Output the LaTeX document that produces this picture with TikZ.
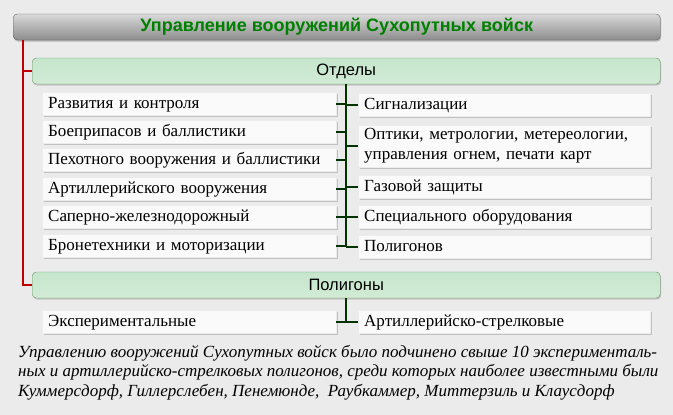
\documentclass[tikz,border=0pt]{standalone}
\usepackage{fontspec}
\setmainfont{Liberation Serif}
\newfontfamily\hdr{Liberation Sans}
\usetikzlibrary{shadows}
\definecolor{barc}{HTML}{C6E6CC}
\begin{document}
\begin{tikzpicture}[x=1pt,y=-1pt,
 box/.style={draw=white!85!gray,fill=white!96!gray,minimum height=22pt,anchor=west,inner xsep=6pt,align=left,font=\fontsize{17}{20}\selectfont,text height=12pt,text depth=4pt,drop shadow={shadow xshift=1.5pt,shadow yshift=-1.5pt,fill=black!40}},
 bar/.style={draw=green!30!black!60,rounded corners=4pt,top color=barc,bottom color=barc!80!white,minimum height=26pt,minimum width=628pt,anchor=west,font=\hdr\fontsize{16.5}{19}\selectfont,drop shadow={shadow xshift=1pt,shadow yshift=-1.5pt,fill=black!40}},
 red/.style={draw=red!75!black,line width=1.2pt},
 tree/.style={draw=green!20!black,line width=1.4pt}]
\fill[black!8] (0,0) rectangle (673,415);
\node[draw=black!60,rounded corners=4pt,top color=black!15,bottom color=black!45,minimum width=647pt,minimum height=26pt,anchor=west,font=\hdr\bfseries\fontsize{18}{20}\selectfont,text=green!50!black,drop shadow={shadow xshift=1pt,shadow yshift=-1.5pt,fill=black!50}] (title) at (13,27) {Управление вооружений Сухопутных войск};
\node[bar] (otd) at (32,71) {Отделы};
\node[bar] (pol) at (32,285) {Полигоны};
\coordinate (r0) at (23,40);
\draw[red] (r0) -- (23,285) -- (pol.west);
\draw[red] (23,71) -- (otd.west);
\foreach \n/\y/\t in {l1/104/Развития и контроля,l2/132/Боеприпасов и баллистики,l3/160/Пехотного вооружения и баллистики,l4/189/Артиллерийского вооружения,l5/217/Саперно-железнодорожный,l6/246/Бронетехники и моторизации}
 \node[box,text width=282pt] (\n) at (42,\y) {\t};
\node[box,text width=280pt] (s1) at (358,105) {Сигнализации};
\node[box,text width=280pt,minimum height=42pt,text height=,text depth=] (s2) at (358,146) {Оптики, метрологии, метереологии,\\управления огнем, печати карт};
\node[box,text width=280pt] (s3) at (358,187) {Газовой защиты};
\node[box,text width=280pt] (s4) at (358,217) {Специального оборудования};
\node[box,text width=280pt] (s5) at (358,247) {Полигонов};
\coordinate (t0) at (346,84);
\coordinate (t1) at (346,247);
\draw[tree] (t0) -- (t1);
\foreach \n in {l1,l2,l3,l4,l5,l6} \draw[tree] (\n.east) -- (\n.east -| t0);
\foreach \n in {s1,s2,s3,s4,s5} \draw[tree] (\n.west) -- (\n.west -| t0);
\node[box,text width=282pt] (p1) at (42,322) {Экспериментальные};
\node[box,text width=280pt] (p2) at (358,322) {Артиллерийско-стрелковые};
\coordinate (u0) at (346,298);
\draw[tree] (u0) -- (346,322);
\draw[tree] (p1.east) -- (p2.west);
\node[anchor=north west,align=left,font=\itshape\fontsize{17}{19.5}\selectfont,inner sep=0pt] (txt) at (18,345) {Управлению вооружений Сухопутных войск было подчинено свыше 10 эксперименталь-\\ных и артиллерийско-стрелковых полигонов, среди которых наиболее известными были\\Куммерсдорф,\ Гиллерслебен,\ Пенемюнде,\ \ Раубкаммер,\ Миттерзиль\ и Клаусдорф};
\end{tikzpicture}
\end{document}
